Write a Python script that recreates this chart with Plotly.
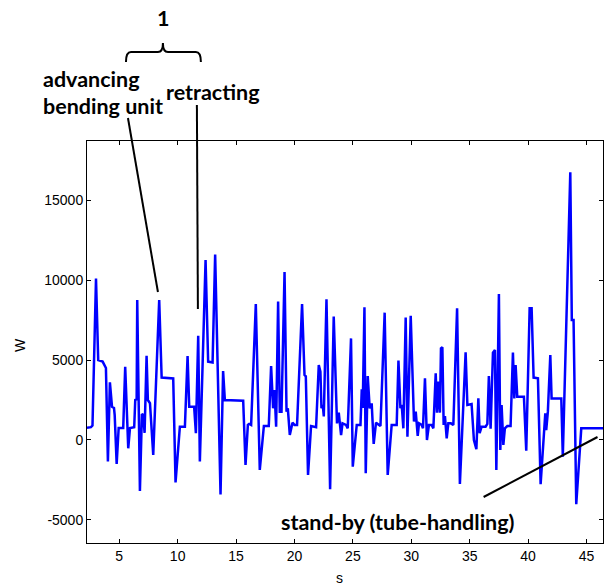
import plotly.graph_objects as go

# time (s) and power (W)
time_s = [2.24, 2.58, 2.71, 3.01, 3.20, 3.58, 3.86, 4.03, 4.20, 4.38, 4.55, 4.61, 4.78, 4.95,
          5.34, 5.51, 5.77, 5.92, 6.28, 6.37, 6.49, 6.54, 6.77, 6.94, 7.05, 7.17, 7.34, 7.45,
          7.63, 7.91, 8.42, 8.63, 9.62, 9.82, 10.19, 10.62, 10.85, 10.99, 11.41, 11.56, 11.76,
          11.90, 12.39, 12.61, 12.99, 13.21, 13.67, 13.89, 14.04, 15.61, 15.81, 16.01, 16.12,
          16.29, 16.69, 17.03, 17.38, 17.80, 18.00, 18.17, 18.29, 18.43, 18.60, 18.74, 18.89,
          19.15, 19.32, 19.43, 19.60, 19.83, 20.00, 20.22, 20.65, 20.86, 20.97, 21.16, 21.42,
          21.85, 22.08, 22.22, 22.31, 22.42, 22.51, 22.74, 23.05, 23.36, 23.64, 23.79, 23.99,
          24.11, 24.41, 24.56, 24.84, 24.99, 25.33, 25.65, 25.76, 25.84, 25.99, 26.10, 26.27,
          26.44, 26.61, 26.78, 26.98, 27.19, 27.36, 27.72, 27.98, 28.32, 28.75, 28.90, 29.07,
          29.18, 29.32, 29.52, 29.67, 29.95, 30.23, 30.38, 30.55, 30.66, 30.89, 31.00, 31.17,
          31.34, 31.51, 31.74, 31.89, 32.09, 32.20, 32.32, 32.45, 32.54, 32.66, 32.77, 32.88,
          33.03, 33.17, 33.39, 33.60, 33.92, 34.16, 34.65, 34.80, 35.16, 35.36, 35.57, 35.74,
          35.85, 36.02, 36.36, 36.51, 36.64, 36.79, 36.99, 37.16, 37.28, 37.50, 37.62, 37.73,
          37.88, 38.01, 38.22, 38.50, 38.70, 38.82, 38.93, 39.07, 39.64, 39.84, 40.13, 40.30,
          40.47, 40.84, 41.07, 41.32, 41.47, 41.55, 41.69, 41.90, 42.01, 42.84, 42.97, 43.61,
          43.74, 43.89, 44.12, 44.55, 46.54]

power_w = [770, 800, 900, 10100, 5000, 4900, 4500, -1350, 3600, 2080, 2000, 1560, -1500, 750,
           750, 4580, -520, 750, 800, 2500, 2550, 8750, -3190, 1620, 1560, 440, 5270, 2500,
           2300, -940, 8750, 3900, 3850, -2650, 830, 830, 5250, 2080, 2080, 420, 6520,
           -1350, 11250, 4900, 4850, 11600, -3400, 4310, 2500, 2460, -1560, 940, 1000,
           940, 8500, -1875, 875, 875, 4625, 1980, 3125, 830, 8650, 1770, 1770,
           10500, 1770, 1980, 310, 1080, 940, 940, 8500, 4060, 3980, -2190, 875,
           800, 4690, 4270, 1980, 2190, 1470, 8790, -3080, 7710, 1040, 1710, 310,
           1040, 940, 730, 6350, -1670, 940, 940, 3170, 2000, 8290, -2080, 4000,
           1980, 2290, -250, 1080, 940, 870, 7960, -2190, 940, 940, 4960, 1980,
           2190, 730, 7650, 210, 7770, 1150, 1770, 250, 1040, 940, 730, 3850,
           0, 940, 940, 730, 4170, 1710, 3650, 1710, 5730, 5800, 940, 1500,
           100, 1040, 1040, 940, 8230, -2750, 5480, 2190, 2250, 0, -580, 2600,
           420, 830, 830, 1000, 4000, 700, 5460, 5625, -1875, 9125, -625, 2190,
           -310, 730, 875, 875, 5460, 2600, 4690, 2710, 2710, -670, 8230, 8230,
           3900, 3850, -2770, 520, 1670, 620, 1770, 5310, 2600, 2600, -1040, 16730,
           7500, 7500, -4020, 730, 730]

x_ticks = [5, 10, 15, 20, 25, 30, 35, 40, 45]
x_labels = ["5", "10", "15", "20", "25", "30", "35", "40", "45"]
y_ticks = [-5000, 0, 5000, 10000, 15000]
y_labels = ["-5000", "0", "5000", "10000", "15000"]

fig = go.Figure()
fig.add_trace(go.Scatter(x=time_s, y=power_w, mode="lines",
                         line=dict(color="#0000ff", width=2.5), showlegend=False))

axis_common = dict(showline=True, linecolor="black", linewidth=1, mirror="ticks",
                   ticks="inside", ticklen=4, tickcolor="black", showgrid=False,
                   zeroline=False, tickfont=dict(family="Liberation Sans, Arial", size=14, color="black"))

fig.update_layout(
    width=611, height=585,
    margin=dict(l=87, r=8, t=141, b=42),
    paper_bgcolor="white", plot_bgcolor="white",
    xaxis=dict(range=[2.24, 46.41], tickvals=x_ticks, ticktext=x_labels, **axis_common),
    yaxis=dict(range=[-6440, 18690], tickvals=y_ticks, ticktext=y_labels, **axis_common),
)

def px(x):
    return (x - 87) / 516.5

def py(y):
    return (543 - y) / 402

lab_font = dict(family="Lato, Open Sans, sans-serif", size=21.5, color="black")
ann = [
    dict(text="<b>1</b>", x=px(163), y=py(18), xanchor="center", yanchor="middle", font=lab_font),
    dict(text="<b>advancing</b>", x=px(41), y=py(79), xanchor="left", yanchor="middle", font=lab_font),
    dict(text="<b>bending unit</b>", x=px(41), y=py(106), xanchor="left", yanchor="middle", font=lab_font),
    dict(text="<b>retracting</b>", x=px(164), y=py(92), xanchor="left", yanchor="middle", font=lab_font),
    dict(text="<b>stand-by (tube-handling)</b>", x=px(279), y=py(522), xanchor="left", yanchor="middle", font=lab_font),
    dict(text="s", x=px(340), y=py(578), xanchor="center", yanchor="middle",
         font=dict(family="Liberation Sans, Arial", size=14, color="black")),
    dict(text="W", x=px(20), y=py(345), xanchor="center", yanchor="middle", textangle=-90,
         font=dict(family="Liberation Sans, Arial", size=14, color="black")),
]
for a in ann:
    a.update(xref="paper", yref="paper", showarrow=False)
fig.update_layout(annotations=ann)

line_style = dict(color="black", width=2)
shapes = [
    dict(type="line", x0=px(128), y0=py(118), x1=px(158), y1=py(292), line=line_style),
    dict(type="line", x0=px(197), y0=py(105), x1=px(198), y1=py(309), line=line_style),
    dict(type="line", x0=px(484), y0=py(497), x1=px(598), y1=py(437), line=line_style),
]
brace = ("M {a},{b} Q {a},{c} {d},{c} L {e},{c} Q {f},{c} {f},{g} Q {f},{c} {h},{c} "
         "L {i},{c} Q {j},{c} {j},{b}").format(
    a=px(126), b=py(62), c=py(52), d=px(131), e=px(158), f=px(163), g=py(43),
    h=px(168), i=px(196), j=px(201))
shapes.append(dict(type="path", path=brace, line=line_style))
for s in shapes:
    s.update(xref="paper", yref="paper")
fig.update_layout(shapes=shapes)

fig.write_html("out.html")
